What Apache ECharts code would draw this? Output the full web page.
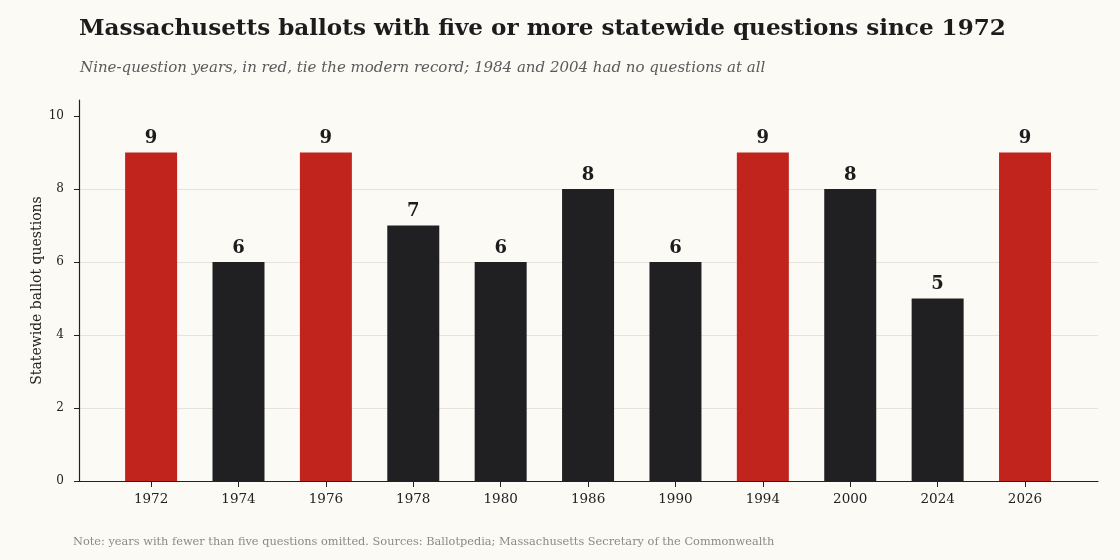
<!DOCTYPE html>
<html><head><meta charset="utf-8">
<script src="https://cdn.jsdelivr.net/npm/echarts@6/dist/echarts.min.js"></script>
<style>html,body{margin:0;padding:0;background:#fcfaf5;}#c{width:1120px;height:560px;}</style>
</head><body><div id="c"></div>
<script>
const years = ['1972','1974','1976','1978','1980','1986','1990','1994','2000','2024','2026'];
const questions = [9,6,9,7,6,8,6,9,8,5,9];
const recordValue = 9;
const yTicks = [0,2,4,6,8,10];

const RED = '#c1241d', DARK = '#202023';
const FONT = '"DejaVu Serif", "Liberation Serif", serif';
const chart = echarts.init(document.getElementById('c'));
const idx = years.map((y,i)=>i);
chart.setOption({
  backgroundColor: '#fcfaf5',
  animation: false,
  title: [
    {text: 'Massachusetts ballots with five or more statewide questions since 1972', left: 74, top: 12,
     textStyle: {fontFamily: FONT, fontSize: 23.1, fontWeight: 'bold', color: '#1c1c1c'}},
    {text: 'Nine-question years, in red, tie the modern record; 1984 and 2004 had no questions at all', left: 75, top: 56,
     textStyle: {fontFamily: FONT, fontSize: 15, fontStyle: 'italic', fontWeight: 'normal', color: '#5a5a5a'}},
    {text: 'Note: years with fewer than five questions omitted. Sources: Ballotpedia; Massachusetts Secretary of the Commonwealth', left: 68, top: 532,
     textStyle: {fontFamily: FONT, fontSize: 11.35, fontWeight: 'normal', color: '#8a8a8a'}}
  ],
  grid: {left: 79, right: 22, top: 100, bottom: 79},
  xAxis: {
    type: 'value', min: -0.825, max: 10.835,
    axisLine: {show: true, onZero: false, lineStyle: {color: '#222', width: 1.2}},
    axisTick: {show: true, length: 6, lineStyle: {color: '#222'}, customValues: idx},
    axisLabel: {customValues: idx, formatter: v => years[Math.round(v)], fontFamily: FONT, fontSize: 13.5, color: '#222', margin: 11},
    splitLine: {show: false}
  },
  yAxis: {
    type: 'value', min: 0, max: 10.44, interval: 2,
    name: 'Statewide ballot questions', nameLocation: 'middle', nameGap: 35, nameMoveOverlap: false,
    nameTextStyle: {fontFamily: FONT, fontSize: 14, color: '#222'},
    axisLine: {show: true, onZero: false, lineStyle: {color: '#222', width: 1.2}},
    axisTick: {show: true, length: 5, lineStyle: {color: '#222'}, customValues: yTicks},
    axisLabel: {customValues: yTicks, fontFamily: FONT, fontSize: 12, color: '#222', margin: 15},
    splitLine: {show: true, lineStyle: {color: '#e6e3dc', width: 1}, showMaxLine: false}
  },
  series: [{
    type: 'bar', barWidth: 52,
    data: questions.map((v,i)=>({value: [i, v], itemStyle: {color: v === recordValue ? RED : DARK}})),
    label: {show: true, position: 'top', distance: 5, formatter: p => p.value[1],
            fontFamily: FONT, fontSize: 18, fontWeight: 'bold', color: '#1c1c1c'}
  }]
});
</script></body></html>
